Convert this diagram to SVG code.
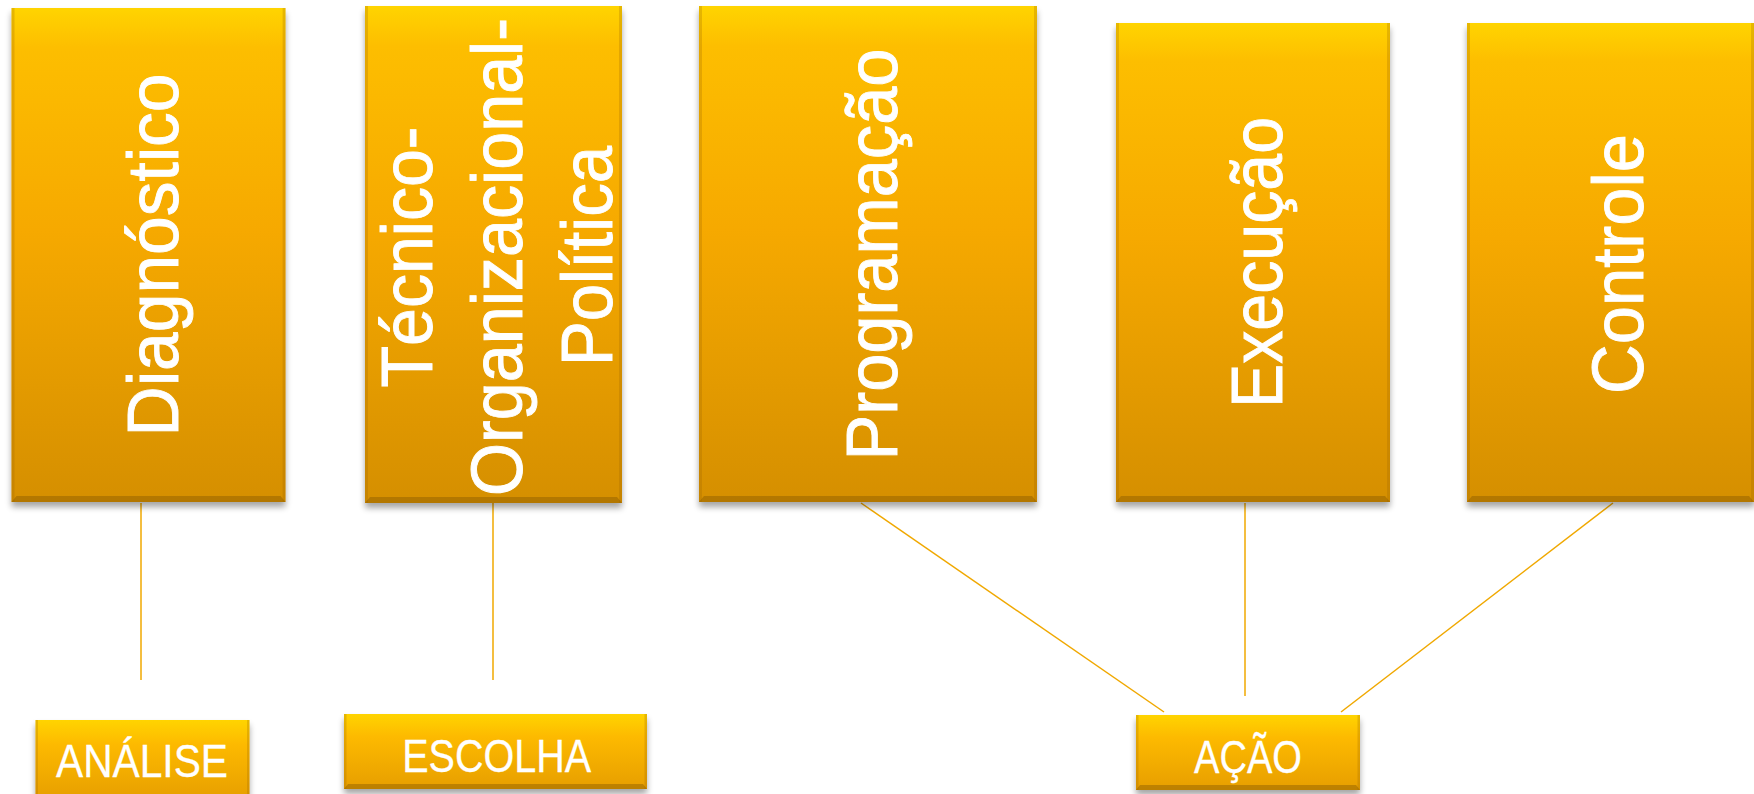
<svg xmlns="http://www.w3.org/2000/svg" width="1754" height="794" viewBox="0 0 1754 794">
<defs>
<linearGradient id="gBig" x1="0" y1="0" x2="0" y2="1">
<stop offset="0" stop-color="#FFD400"/>
<stop offset="0.08" stop-color="#FDBE00"/>
<stop offset="0.45" stop-color="#F6A900"/>
<stop offset="1" stop-color="#D58F00"/>
</linearGradient>
<linearGradient id="gSmall" x1="0" y1="0" x2="0" y2="1">
<stop offset="0" stop-color="#FFD400"/>
<stop offset="0.3" stop-color="#FDBA00"/>
<stop offset="1" stop-color="#E79E00"/>
</linearGradient>
<filter id="sh" x="-10%" y="-10%" width="120%" height="130%">
<feGaussianBlur in="SourceAlpha" stdDeviation="3"/>
<feOffset dx="0" dy="5" result="b"/>
<feComponentTransfer><feFuncA type="linear" slope="0.35"/></feComponentTransfer>
<feMerge><feMergeNode/><feMergeNode in="SourceGraphic"/></feMerge>
</filter>
</defs>
<style>
.box{fill:url(#gBig);filter:url(#sh)}
.sbox{fill:url(#gSmall);filter:url(#sh)}
.edge{fill:#9A6400;opacity:0.25}
.bot{fill:#8A5A00;opacity:0.45}
.big{font-family:"Liberation Sans",Arial,sans-serif;font-size:72px;fill:#FFFFFF;stroke:#FFFFFF;stroke-width:0.9;text-anchor:middle}
.lab{font-family:"Liberation Sans",Arial,sans-serif;font-size:46px;fill:#FFFFFF;stroke:#FFFFFF;stroke-width:0.3;text-anchor:middle}
.con{stroke:#F0A800;stroke-width:1.5;fill:none}
</style>
<g id="connectors">
<line class="con" x1="141" y1="503" x2="141" y2="680"/>
<line class="con" x1="493" y1="503" x2="493" y2="680"/>
<line class="con" x1="861" y1="503" x2="1164" y2="712"/>
<line class="con" x1="1245" y1="503" x2="1245" y2="696"/>
<line class="con" x1="1613" y1="503" x2="1341" y2="712"/>
</g>
<g id="n-diagnostico">
<rect class="box" x="11.5" y="8" width="274" height="494"/>
<rect class="edge" x="11.5" y="8" width="3" height="494"/>
<rect class="edge" x="282.6" y="8" width="3" height="494"/>
<polygon class="bot" points="11.5,502 285.5,502 280.5,496 16.5,496"/>
<text class="big" transform="translate(178 255) rotate(-90)" textLength="363" lengthAdjust="spacingAndGlyphs">Diagnóstico</text>
</g>
<g id="n-tecnico">
<rect class="box" x="365" y="6" width="257" height="497"/>
<rect class="edge" x="365" y="6" width="3" height="497"/>
<rect class="edge" x="619" y="6" width="3" height="497"/>
<polygon class="bot" points="365,503 622,503 617,497 370,497"/>
<text class="big" transform="translate(431.5 257) rotate(-90)" textLength="261" lengthAdjust="spacingAndGlyphs">Técnico-</text>
<text class="big" transform="translate(522 257) rotate(-90)" textLength="478" lengthAdjust="spacingAndGlyphs">Organizacional-</text>
<text class="big" transform="translate(612 256) rotate(-90)" textLength="220" lengthAdjust="spacingAndGlyphs">Política</text>
</g>
<g id="n-programacao">
<rect class="box" x="699" y="6" width="338" height="496"/>
<rect class="edge" x="699" y="6" width="3" height="496"/>
<rect class="edge" x="1034" y="6" width="3" height="496"/>
<polygon class="bot" points="699,502 1037,502 1032,496 704,496"/>
<text class="big" transform="translate(897 254.5) rotate(-90)" textLength="412" lengthAdjust="spacingAndGlyphs">Programação</text>
</g>
<g id="n-execucao">
<rect class="box" x="1116" y="23" width="274" height="479"/>
<rect class="edge" x="1116" y="23" width="3" height="479"/>
<rect class="edge" x="1387" y="23" width="3" height="479"/>
<polygon class="bot" points="1116,502 1390,502 1385,496 1121,496"/>
<text class="big" transform="translate(1281.5 262.5) rotate(-90)" textLength="291" lengthAdjust="spacingAndGlyphs">Execução</text>
</g>
<g id="n-controle">
<rect class="box" x="1467" y="23" width="288" height="479"/>
<rect class="edge" x="1467" y="23" width="3" height="479"/>
<rect class="edge" x="1751" y="23" width="3" height="479"/>
<polygon class="bot" points="1467,502 1754,502 1749,496 1472,496"/>
<text class="big" transform="translate(1643 264) rotate(-90)" textLength="260" lengthAdjust="spacingAndGlyphs">Controle</text>
</g>
<g id="n-analise">
<rect class="sbox" x="35.5" y="720" width="214" height="80"/>
<rect class="edge" x="35.5" y="720" width="2.5" height="80"/>
<rect class="edge" x="247" y="720" width="2.5" height="80"/>
<text class="lab" x="142" y="776.7" textLength="172" lengthAdjust="spacingAndGlyphs">ANÁLISE</text>
</g>
<g id="n-escolha">
<rect class="sbox" x="344" y="714" width="303" height="75"/>
<rect class="edge" x="344" y="714" width="2.5" height="75"/>
<rect class="edge" x="644.5" y="714" width="2.5" height="75"/>
<polygon class="bot" points="344,789 647,789 643,784 348,784"/>
<text class="lab" x="496.7" y="771.7" textLength="189" lengthAdjust="spacingAndGlyphs">ESCOLHA</text>
</g>
<g id="n-acao">
<rect class="sbox" x="1136" y="715" width="224" height="75"/>
<rect class="edge" x="1136" y="715" width="2.5" height="75"/>
<rect class="edge" x="1357.5" y="715" width="2.5" height="75"/>
<polygon class="bot" points="1136,790 1360,790 1356,785 1140,785"/>
<text class="lab" x="1248" y="772.7" textLength="108" lengthAdjust="spacingAndGlyphs">AÇÃO</text>
</g>
</svg>
